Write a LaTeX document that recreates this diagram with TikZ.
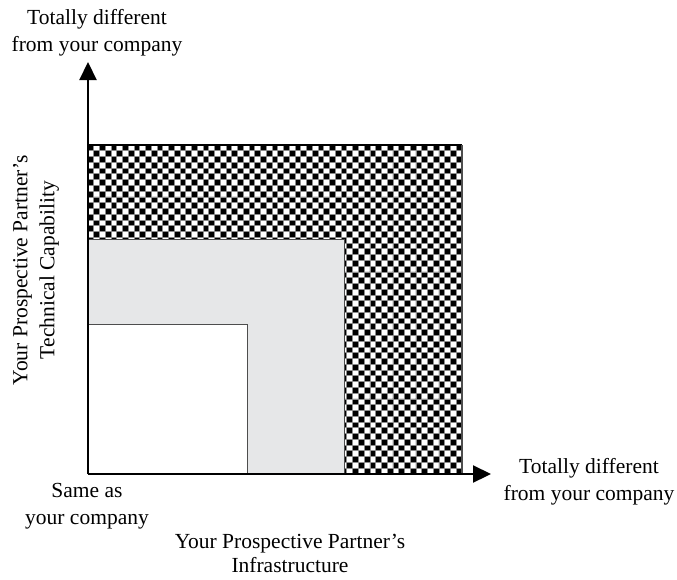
\documentclass[tikz,border=0pt]{standalone}
\usepackage{fontspec}
\setmainfont{Liberation Serif}
\usetikzlibrary{arrows.meta}
\definecolor{lightfill}{HTML}{E6E7E8}
\definecolor{gridgray}{HTML}{8C8C8C}
\definecolor{edgegray}{HTML}{4D4D4D}
\begin{document}
\begin{tikzpicture}[x=1pt,y=-1pt,
  lbl/.style={font=\fontsize{21.5}{27}\selectfont, align=center, inner sep=0pt},
  axis/.style={line width=2.2pt, -{Triangle[length=18pt,width=17pt]}},
  zone/.style={draw=edgegray, line width=1.2pt}]
\useasboundingbox (0,0) rectangle (677,579);
% checker zone
\def\cs{5.754}
\fill[white] (88,145) rectangle (462,474);
\fill[black]
  \foreach \i in {0,...,64}{
    \foreach \j in {0,...,56}{
      \ifodd\numexpr\i+\j\relax
      \else
        (88+\i*\cs,145+\j*5.772) rectangle ++(\cs,5.772)
      \fi
    }
  };
\draw[gridgray, line width=0.9pt]
  \foreach \i in {1,...,64}{ (88+\i*\cs,145) -- (88+\i*\cs,474) }
  \foreach \j in {1,...,56}{ (88,145+\j*5.772) -- (462,145+\j*5.772) };
\draw[line width=2pt] (88,145) -- (462,145);
\draw[edgegray, line width=1.2pt] (462,145) -- (462,474);
% gray zone
\node[zone, fill=lightfill, anchor=south west, minimum width=256pt, minimum height=234pt, inner sep=0pt] (mid) at (88,474) {};
% white zone
\node[zone, fill=white, anchor=south west, minimum width=159pt, minimum height=149pt, inner sep=0pt] (low) at (88,474) {};
% axes
\coordinate (O) at (88,474);
\coordinate (Ytip) at (88,62);
\coordinate (Xtip) at (491,474);
\draw[axis] (O) -- (Ytip);
\draw[axis] (O) -- (Xtip);
% labels
\node[lbl] (ytop) at (97,33) {Totally different\\from your company};
\node[lbl] (xright) at (589,482) {Totally different\\from your company};
\node[lbl] (origin) at (87,506) {Same as\\your company};
\node[lbl, font=\fontsize{21.5}{24}\selectfont, anchor=south] (xlabel) at (290,573) {Your Prospective Partner’s\\Infrastructure};
\node[lbl, rotate=90] (ylabel) at (36,270) {Your Prospective Partner’s\\Technical Capability};
\end{tikzpicture}
\end{document}
